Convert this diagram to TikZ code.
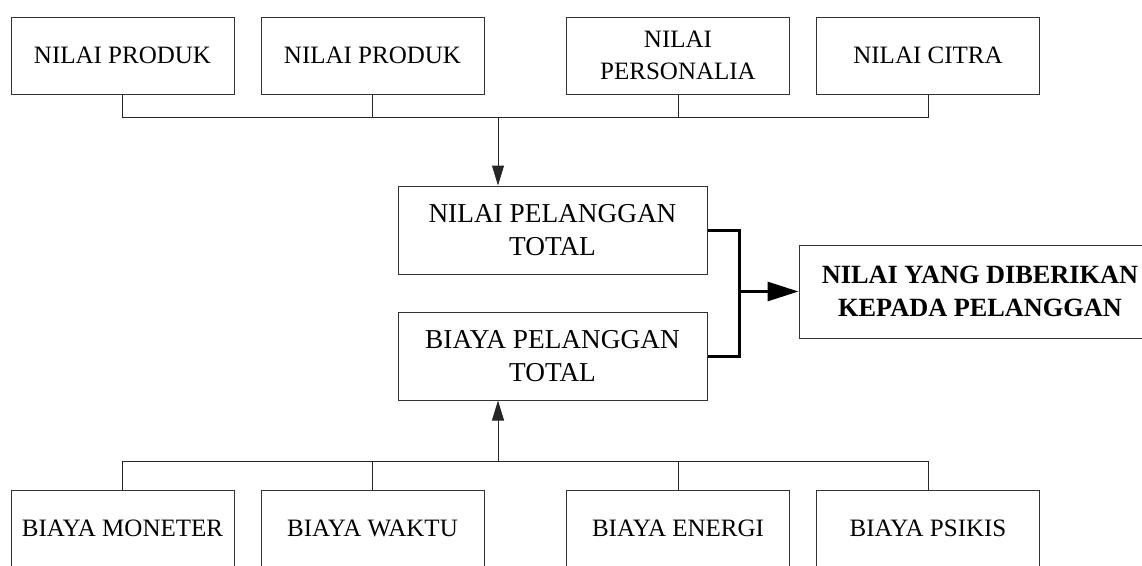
\documentclass[tikz,border=0pt]{standalone}
\usepackage{fontspec}
\setmainfont{Liberation Serif}
\usetikzlibrary{arrows.meta}
\begin{document}
\begin{tikzpicture}[x=1pt,y=-1pt,
  box/.style={draw=black!80,line width=1pt,inner sep=0pt,align=center,
    font=\fontsize{25}{32.3}\selectfont},
  smallbox/.style={box,minimum width=223pt,minimum height=77pt},
  midbox/.style={box,minimum width=309pt,minimum height=88pt,
    font=\fontsize{27.3}{33}\selectfont},
  thin/.style={draw=black!85,line width=1pt},
  thinarrow/.style={thin,-{Triangle[length=20pt,width=12pt]}},
  heavy/.style={draw=black,line width=3pt},
  heavyarrow/.style={heavy,-{Triangle[length=31pt,width=19pt]}}]
\clip (0,0) rectangle (1142,565);

% value components
\node[smallbox] (t1) at (122.5,55.5) {NILAI PRODUK};
\node[smallbox] (t2) at (372.5,55.5) {NILAI PRODUK};
\node[smallbox] (t3) at (678,55.5) {NILAI\\PERSONALIA};
\node[smallbox] (t4) at (928,55.5) {NILAI CITRA};

% totals
\node[midbox] (m1) at (552.5,230) {NILAI PELANGGAN\\TOTAL};
\node[midbox] (m2) at (552.5,356) {BIAYA PELANGGAN\\TOTAL};

% result
\node[box,minimum width=362pt,minimum height=93pt,
  font=\fontsize{26.3}{33.7}\selectfont\bfseries] (r) at (980,291.5)
  {NILAI YANG DIBERIKAN\\KEPADA PELANGGAN};

% cost components
\node[smallbox] (b1) at (122.5,528.5) {BIAYA MONETER};
\node[smallbox] (b2) at (372.5,528.5) {BIAYA WAKTU};
\node[smallbox] (b3) at (678,528.5) {BIAYA ENERGI};
\node[smallbox] (b4) at (928,528.5) {BIAYA PSIKIS};

% junction points
\coordinate (tbus) at (498,117);
\coordinate (bbus) at (498,461);
\coordinate (j) at (739,291.5);

% top bus
\draw[thin] (t1.south) |- (t4.south |- tbus) -- (t4.south);
\draw[thin] (t2.south) -- (t2.south |- tbus);
\draw[thin] (t3.south) -- (t3.south |- tbus);
\draw[thinarrow] (tbus) -- (tbus |- m1.north);

% bottom bus
\draw[thin] (b1.north) |- (b4.north |- bbus) -- (b4.north);
\draw[thin] (b2.north) -- (b2.north |- bbus);
\draw[thin] (b3.north) -- (b3.north |- bbus);
\draw[thinarrow] (bbus) -- (bbus |- m2.south);

% merge into result
\draw[heavy] (m1.east) -| (j) |- (m2.east);
\draw[heavyarrow] (j) -- (r.west);
\end{tikzpicture}
\end{document}
